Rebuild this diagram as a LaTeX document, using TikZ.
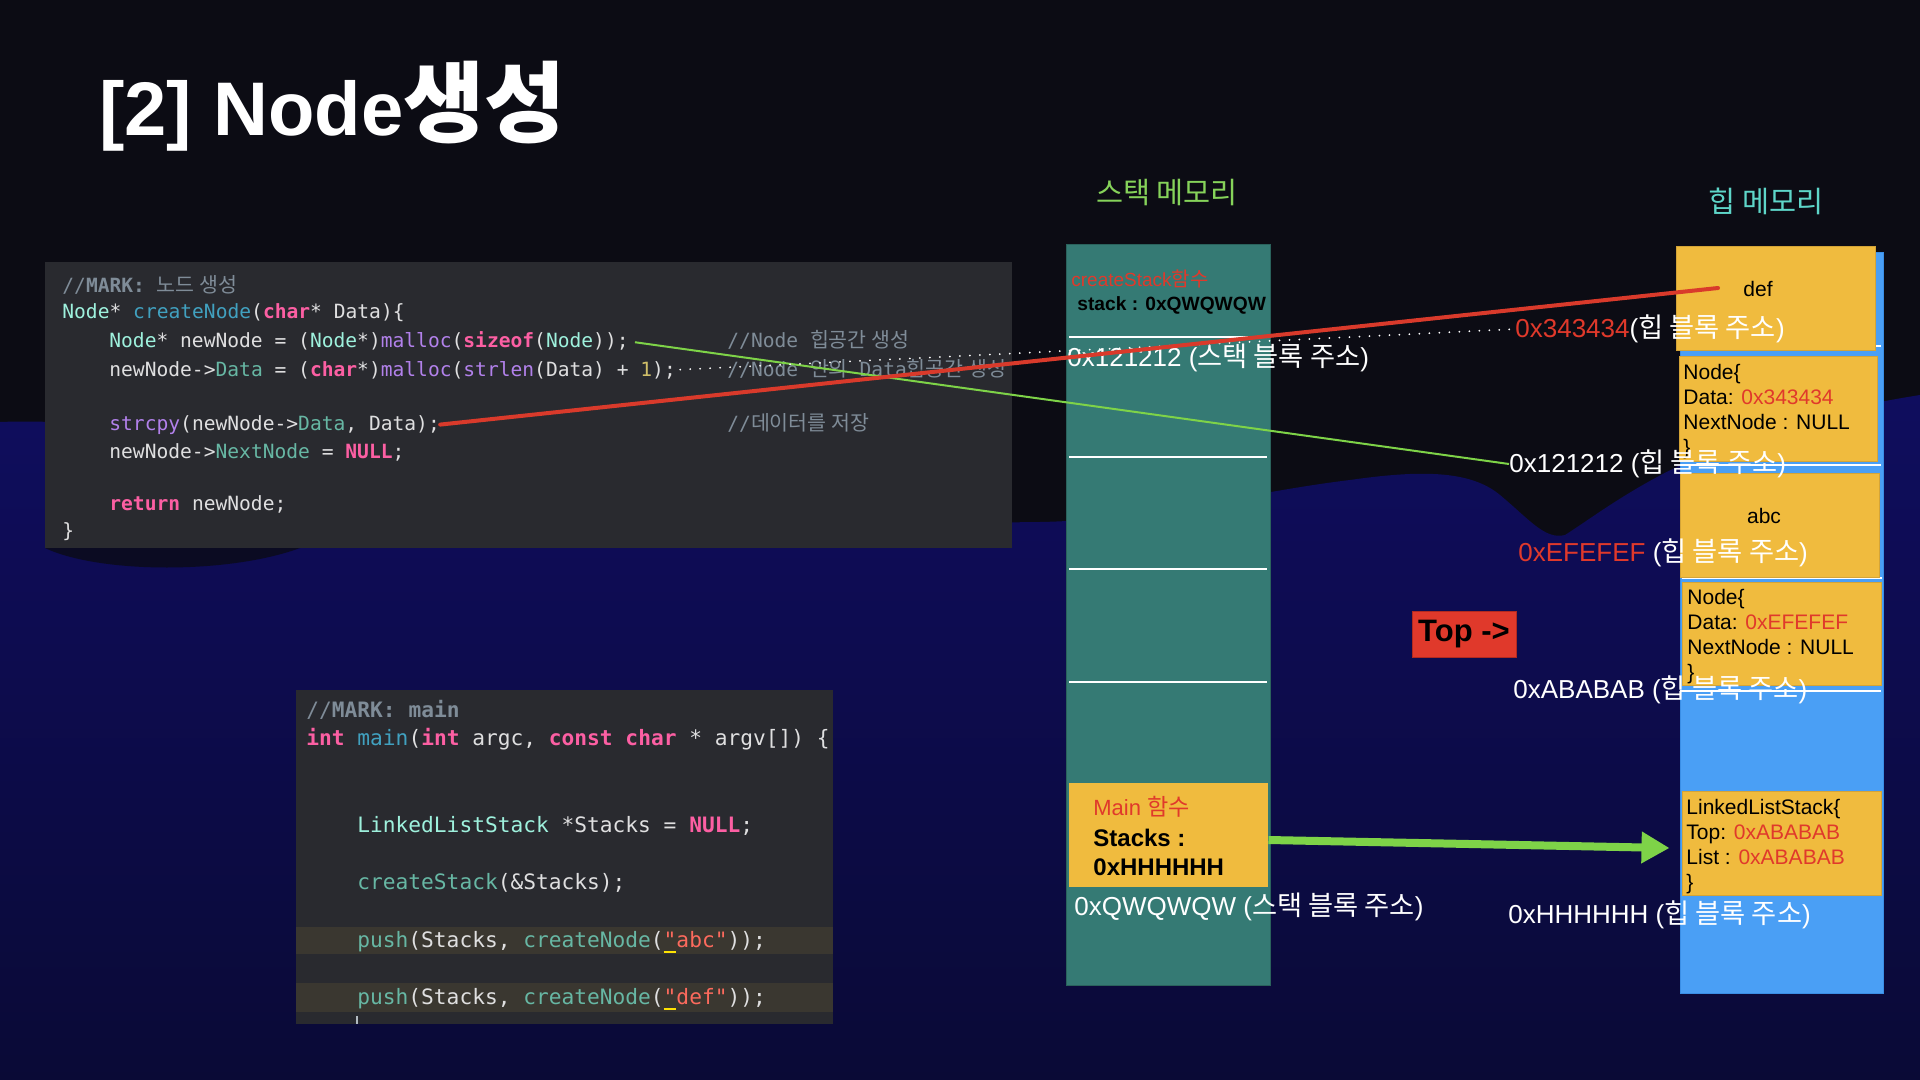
\documentclass[tikz,border=0pt]{standalone}
\usepackage{fontspec}
\setmainfont{Liberation Sans}
\newfontfamily\kr{Noto Sans CJK KR}[Scale=1.05]
\newfontfamily\codefont{DejaVu Sans Mono}
\usetikzlibrary{arrows.meta,calc}

\definecolor{bgdark}{HTML}{0C0C14}
\definecolor{wavetop}{HTML}{0F0D5E}
\definecolor{wavemid}{HTML}{13117E}
\definecolor{wavebot}{HTML}{0A0A36}
\definecolor{lumpc}{HTML}{0B0B22}
\definecolor{codebg}{HTML}{292A2F}
\definecolor{codehl}{HTML}{3A3730}
\definecolor{cplain}{HTML}{DFDFE0}
\definecolor{ckw}{HTML}{FC5FA3}
\definecolor{ccom}{HTML}{7F8C98}
\definecolor{cdecl}{HTML}{41A1C0}
\definecolor{cptype}{HTML}{9EF1DD}
\definecolor{cpfn}{HTML}{67B7A4}
\definecolor{cofn}{HTML}{B281EB}
\definecolor{cnum}{HTML}{D0BF69}
\definecolor{cstr}{HTML}{FC6A5D}
\definecolor{stackc}{HTML}{357A74}
\definecolor{stackd}{HTML}{2A625C}
\definecolor{heapc}{HTML}{4A9FF5}
\definecolor{heapd}{HTML}{3A8EE5}
\definecolor{cyellow}{HTML}{F0BB3E}
\definecolor{cyellowd}{HTML}{D4A437}
\definecolor{tred}{HTML}{E0392B}
\definecolor{tredd}{HTML}{B02A20}
\definecolor{cgreen}{HTML}{86D35A}
\definecolor{ccyan}{HTML}{5ED6C9}
\definecolor{lgreen}{HTML}{7ED348}
\definecolor{lred}{HTML}{D93A2B}

\newcommand\K[1]{{\kr #1}}
\newcommand\Kw[1]{{\bfseries\color{ckw}#1}}
\newcommand\Cm[1]{{\color{ccom}#1}}
\newcommand\Dc[1]{{\color{cdecl}#1}}
\newcommand\Ty[1]{{\color{cptype}#1}}
\newcommand\Pf[1]{{\color{cpfn}#1}}
\newcommand\Of[1]{{\color{cofn}#1}}
\newcommand\Nm[1]{{\color{cnum}#1}}
\newcommand\St[1]{{\color{cstr}#1}}
\newcommand\Uq{\rlap{\color{yellow!85!orange}\rule[-3pt]{0.6em}{1.2pt}}}

\tikzset{
  codeA/.style={anchor=base west, inner sep=0pt, text=cplain, font=\codefont\fontsize{9.8pt}{11pt}\selectfont},
  codeB/.style={anchor=base west, inner sep=0pt, text=cplain, font=\codefont\fontsize{10.6pt}{12pt}\selectfont},
  lbl/.style={anchor=west, inner sep=0pt, text=white, font=\fontsize{13pt}{15pt}\selectfont},
  ybox/.style={fill=cyellow, draw=cyellowd, line width=0.5pt, minimum width=99.5pt, minimum height=52pt, inner sep=0pt},
  boxtxt/.style={anchor=north west, inner sep=0pt, align=left, text=black, font=\fontsize{10.5pt}{12.5pt}\selectfont},
  divider/.style={draw=white, line width=1.2pt},
  greenthin/.style={draw=lgreen, line width=1pt},
  redline/.style={draw=lred, line width=2pt, line cap=round},
  dotline/.style={draw=white, line width=1pt, line cap=round, dash pattern=on 0pt off 5pt},
  bigarrow/.style={draw=lgreen, line width=4pt, -{Triangle[length=14pt,width=15pt]}},
}

\begin{document}
\begin{tikzpicture}[x=0.5pt,y=-0.5pt]
\useasboundingbox (0,0) rectangle (1920,1080);
% background
\fill[bgdark] (0,0) rectangle (1920,1080);
\shade[top color=wavetop, middle color=wavemid, bottom color=wavebot]
  (0,422) .. controls (100,418) and (250,440) .. (400,470)
  .. controls (600,510) and (850,525) .. (1040,522)
  .. controls (1150,520) and (1250,492) .. (1350,480)
  .. controls (1420,470) and (1470,470) .. (1500,495)
  .. controls (1530,520) and (1545,540) .. (1565,535)
  .. controls (1620,500) and (1700,430) .. (1920,395)
  -- (1920,1080) -- (0,1080) -- cycle;
\fill[lumpc] (45,548) .. controls (100,574) and (230,574) .. (300,548) -- cycle;

% title
\node[anchor=base west, inner sep=0pt, text=white, font=\bfseries\fontsize{38pt}{44pt}\selectfont] (title) at (99,136) {[2] Node{\fontsize{42pt}{44pt}\selectfont\K{생성}}};

% code box 1
\node[fill=codebg, minimum width=483.5pt, minimum height=143pt, inner sep=0pt] (code1) at (528.5,405) {};
\node[codeA] (c1l1) at (62,293) {\Cm{//\textbf{MARK:} \K{노드 생성}}};
\node[codeA] (c1l2) at (62,319) {\Ty{Node}* \Dc{createNode}(\Kw{char}* Data)\{};
\node[codeA] (c1l3) at (109,348) {\Ty{Node}* newNode = (\Ty{Node}*)\Of{malloc}(\Kw{sizeof}(\Ty{Node}));};
\node[codeA] (c1l4) at (109,376) {newNode->\Pf{Data} = (\Kw{char}*)\Of{malloc}(\Of{strlen}(Data) + \Nm{1});};
\node[codeA] (c1l5) at (109,430) {\Of{strcpy}(newNode->\Pf{Data}, Data);};
\node[codeA] (c1l6) at (109,458) {newNode->\Pf{NextNode} = \Kw{NULL};};
\node[codeA] (c1l7) at (109,510) {\Kw{return} newNode;};
\node[codeA] (c1l8) at (62,537) {\}};
\node[codeA] (c1m3) at (727,348) {\Cm{//Node \K{힙공간 생성}}};
\node[codeA] (c1m4) at (727,376) {\Cm{//Node \K{안의} Data\K{힙공간 생성}}};
\node[codeA] (c1m5) at (727,430) {\Cm{//\K{데이터를 저장}}};

% code box 2
\node[fill=codebg, minimum width=268.5pt, minimum height=167pt, inner sep=0pt] (code2) at (564.5,857) {};
\fill[codehl] (296,927) rectangle (833,954);
\fill[codehl] (296,983) rectangle (833,1012);
\draw[ccom!60, line width=1pt] (357,1016) -- (357,1024);
\node[codeB] (c2l1) at (306,717) {\Cm{//\textbf{MARK: main}}};
\node[codeB] (c2l2) at (306,745) {\Kw{int} \Dc{main}(\Kw{int} argc, \Kw{const} \Kw{char} * argv[]) \{};
\node[codeB] (c2l3) at (357,832) {\Ty{LinkedListStack} *Stacks = \Kw{NULL};};
\node[codeB] (c2l4) at (357,889) {\Pf{createStack}(\&Stacks);};
\node[codeB] (c2l5) at (357,947) {\Pf{push}(Stacks, \Pf{createNode}(\St{\Uq"abc"}));};
\node[codeB] (c2l6) at (357,1004) {\Pf{push}(Stacks, \Pf{createNode}(\St{\Uq"def"}));};

% headers
\node[text=cgreen, font=\kr\fontsize{14pt}{16pt}\selectfont] (stackhdr) at (1167,193) {스택 메모리};
\node[text=ccyan, font=\kr\fontsize{14pt}{16pt}\selectfont] (heaphdr) at (1766,201) {힙 메모리};

% stack column
\node[fill=stackc, draw=stackd, line width=0.5pt, minimum width=102pt, minimum height=370pt, inner sep=0pt] (stackcol) at (1168,615) {};
\draw[divider] (1069,337) -- (1267,337);
\draw[divider] (1069,457) -- (1267,457);
\draw[divider] (1069,569) -- (1267,569);
\draw[divider] (1069,682) -- (1267,682);
\node[anchor=west, inner sep=0pt, text=tred, font=\fontsize{9.5pt}{11pt}\selectfont] (csf) at (1071,279) {createStack\K{함수}};
\node[anchor=west, inner sep=0pt, text=black, font=\bfseries\fontsize{9.6pt}{12pt}\selectfont] (csv) at (1077,305) {stack : 0xQWQWQW};
\node[ybox, draw=none, minimum width=99.5pt] (mainbox) at (1168.5,835) {};
\node[anchor=west, inner sep=0pt, text=tred, font=\fontsize{11pt}{13pt}\selectfont] (mtitle) at (1093,807) {Main \K{함수}};
\node[anchor=west, inner sep=0pt, text=black, font=\bfseries\fontsize{12pt}{14pt}\selectfont] (mstk) at (1093,838) {Stacks :};
\node[anchor=west, inner sep=0pt, text=black, font=\bfseries\fontsize{12pt}{14pt}\selectfont] (mhex) at (1093,867) {0xHHHHHH};

% heap column
\node[fill=heapc, draw=heapd, line width=0.5pt, minimum width=101.5pt, minimum height=370pt, inner sep=0pt] (heapcol) at (1781.5,623) {};
\draw[divider] (1676,346) -- (1881,346);
\draw[divider] (1680,465) -- (1881,465);
\draw[divider] (1682,578) -- (1882,578);
\draw[divider] (1680,691) -- (1881,691);
\node[ybox] (defbox) at (1775.5,299) {};
\node[ybox, minimum width=99pt] (node1) at (1778,409) {};
\node[ybox] (abcbox) at (1779.5,525) {};
\node[ybox, minimum height=51.5pt] (node2) at (1781.5,633.5) {};
\node[ybox] (lls) at (1781.5,843) {};
\node[text=black, inner sep=0pt, font=\fontsize{10.5pt}{12.5pt}\selectfont] (deftxt) at (1758,289) {def};
\node[text=black, inner sep=0pt, font=\fontsize{10.5pt}{12.5pt}\selectfont] (abctxt) at (1764,516) {abc};
\node[boxtxt] (n1txt) at (1683,364) {Node\{\\Data: \textcolor{tred}{0x343434}\\NextNode : NULL\\\}};
\node[boxtxt] (n2txt) at (1687,589) {Node\{\\Data: \textcolor{tred}{0xEFEFEF}\\NextNode : NULL\\\}};
\node[boxtxt] (llstxt) at (1686,799) {LinkedListStack\{\\Top: \textcolor{tred}{0xABABAB}\\List : \textcolor{tred}{0xABABAB}\\\}};

% Top box
\node[fill=tred, draw=tredd, line width=0.5pt, minimum width=52pt, minimum height=23pt, inner sep=0pt, text=black, font=\bfseries\fontsize{15.5pt}{18pt}\selectfont] (topbox) at (1464,634) {Top ->};

% address labels
\node[lbl] (s121) at (1067,358) {0x121212 (\K{스택 블록 주소})};
\node[lbl] (sQW) at (1074,907) {0xQWQWQW (\K{스택 블록 주소})};
\node[lbl] (h343) at (1515,329) {\textcolor{tred}{0x343434}(\K{힙 블록 주소})};
\node[lbl] (h121) at (1509,464) {0x121212 (\K{힙 블록 주소})};
\node[lbl] (hEF) at (1518,553) {\textcolor{tred}{0xEFEFEF} (\K{힙 블록 주소})};
\node[lbl] (hAB) at (1513,690) {0xABABAB (\K{힙 블록 주소})};
\node[lbl] (hHH) at (1508,915) {0xHHHHHH (\K{힙 블록 주소})};

% connectors
\coordinate (redend) at (1718,288);
\draw[greenthin, shorten <=3pt] (c1l3.east) -- (h121.west);
\draw[dotline, shorten <=2pt] (c1l4.east) -- (h343.west);
\draw[redline] (c1l5.east) -- (redend);
\draw[bigarrow] ($(mainbox.east)+(0,5)$) -- ($(lls.west)+(-12,5)$);
\end{tikzpicture}
\end{document}
